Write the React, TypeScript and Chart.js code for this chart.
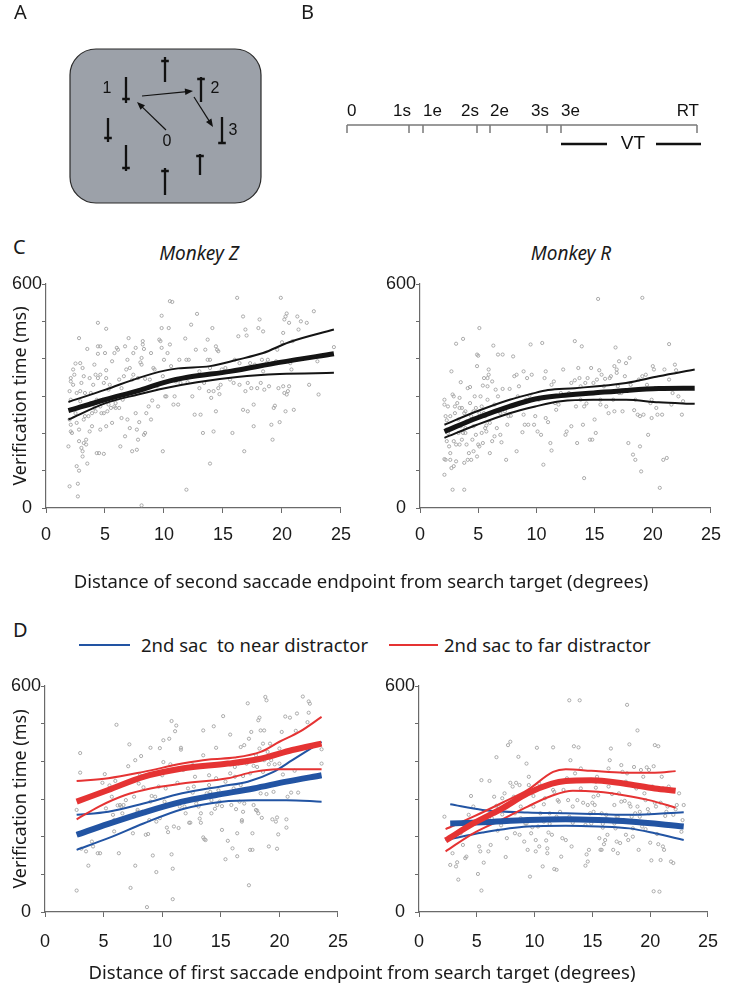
import React, { useEffect, useRef } from "react";
import { Chart, registerables } from "chart.js";
Chart.register(...registerables);

type Pt = [number, number];

// ---------------- Panel A (search array diagram) ----------------
const aItemX = [165, 126, 201, 222, 108, 126, 165, 200];
const aItemTop = [57, 77, 77, 117, 118, 145, 168, 154];
const aItemBottom = [82, 103, 102, 143, 142, 171, 195, 175];
const aItemBar = [61, 99, 79, 143, 138, 168, 171, 156];
const aLabels = ["0", "1", "2", "3"];
const aLabelPos: Pt[] = [[167, 142], [107, 89], [215, 89], [233, 131]];
const aArrowFrom: Pt[] = [[166, 130], [142, 96], [194, 97]];
const aArrowTo: Pt[] = [[137, 102], [193, 91], [213, 127]];
const aScreen = [70, 49, 261, 203];

// ---------------- Panel B (timeline) ----------------
const bEvents = ["0", "1s", "1e", "2s", "2e", "3s", "3e", "RT"];
const bTimes = [0, 62, 76, 130, 143, 200, 214, 350];

// ---------------- Panel C : Monkey Z ----------------
const cZPoints: Pt[] = [[1.9,165],[2,58],[2,313],[2.1,348],[2.1,339],[2.1,290],[2,237],[2.1,223],[2.1,205],[2.2,201],[2.3,371],[2.3,330],[2.4,357],[2.5,387],[2.5,254],[2.6,228],[2.6,112],[2.6,308],[2.7,31],[2.7,65],[2.8,100],[2.8,179],[2.8,455],[2.8,210],[2.9,313],[2.9,286],[2.9,388],[3,335],[3,161],[3.1,138],[3.1,375],[3.1,152],[3.2,353],[3.2,174],[3.2,237],[3.3,308],[3.3,246],[3.4,183],[3.4,170],[3.5,119],[3.5,426],[3.6,246],[3.7,348],[3.7,205],[3.8,281],[3.8,308],[3.9,254],[3.9,219],[4,330],[4.1,268],[4.1,384],[4.2,259],[4.2,357],[4.3,290],[4.3,147],[4.4,413],[4.4,496],[4.4,433],[4.4,348],[4.5,147],[4.6,357],[4.6,272],[4.6,433],[4.6,210],[4.7,254],[4.8,290],[4.9,335],[4.9,145],[4.9,254],[5,415],[5.1,480],[5.1,348],[5.1,369],[5.1,219],[5.2,259],[5.3,317],[5.3,277],[5.4,330],[5.5,268],[5.6,393],[5.6,228],[5.7,290],[5.8,415],[5.8,272],[5.9,281],[5.9,268],[6,429],[6.1,424],[6.2,268],[6.2,344],[6.3,165],[6.4,241],[6.4,321],[6.5,290],[6.6,353],[6.7,433],[6.7,192],[6.8,371],[6.9,397],[6.9,237],[7,455],[7.1,375],[7.1,214],[7.2,308],[7.3,152],[7.3,344],[7.4,415],[7.4,357],[7.6,254],[7.6,429],[7.7,156],[7.7,210],[7.8,348],[7.8,183],[7.9,230],[8,390],[8.1,402],[8.1,384],[8.1,7],[8.2,447],[8.2,438],[8.3,317],[8.3,426],[8.3,196],[8.4,346],[8.4,201],[8.5,254],[8.7,272],[8.8,344],[8.9,237],[8.9,415],[9,288],[9.1,375],[9.2,371],[9.4,326],[9.5,272],[9.6,451],[9.7,447],[9.8,482],[9.8,429],[9.8,515],[9.9,152],[9.9,353],[10,397],[10.1,299],[10.2,299],[10.3,415],[10.4,482],[10.5,554],[10.5,438],[10.6,380],[10.7,552],[10.8,277],[10.9,299],[11,339],[11.2,277],[11.3,397],[11.4,335],[11.8,454],[11.9,397],[11.9,49],[12,337],[12.1,397],[12.3,491],[12.4,299],[12.6,250],[12.7,424],[12.8,520],[13,366],[13,321],[13.1,250],[13.3,201],[13.4,335],[13.5,424],[13.7,451],[13.7,397],[13.8,313],[13.9,375],[13.9,397],[13.9,119],[14,295],[14.1,482],[14.2,205],[14.2,313],[14.4,259],[14.4,433],[14.5,424],[14.6,321],[14.6,420],[14.7,305],[14.8,330],[14.9,371],[15.2,375],[15.6,344],[15.8,201],[15.9,335],[16,397],[16.2,563],[16.3,460],[16.4,330],[16.4,388],[16.7,263],[16.7,513],[16.8,152],[16.9,478],[16.9,313],[17,462],[17.1,259],[17.1,335],[17.3,388],[17.4,321],[17.6,219],[17.6,277],[17.7,384],[17.9,321],[18,482],[18.1,505],[18.2,335],[18.3,397],[18.4,473],[18.4,366],[18.5,317],[18.7,388],[18.8,397],[18.9,326],[19.1,223],[19.2,183],[19.2,388],[19.3,268],[19.4,274],[19.5,393],[19.6,424],[19.7,321],[19.8,230],[19.9,563],[20,444],[20.1,326],[20.1,469],[20.2,505],[20.2,308],[20.3,259],[20.3,513],[20.4,304],[20.4,521],[20.5,313],[20.6,496],[20.6,326],[20.7,388],[20.8,371],[20.9,447],[21,263],[21.2,397],[21.3,513],[21.4,478],[21.6,500],[22.1,496],[22.3,330],[22.7,527],[23,393],[23.1,304],[24.4,431]];
const cZMean: Pt[] = [[1.9,261],[5,290],[8,316],[10.2,338],[12,350],[15.6,366],[19.8,390],[24.4,413]];
const cZUpper: Pt[] = [[1.9,284],[5.05,317],[7.8,348],[10.06,368],[11.2,374],[13.9,380],[16.2,397],[18.4,415],[20.6,444],[24.4,478]];
const cZLower: Pt[] = [[1.9,237],[5.05,281],[7.8,304],[10.06,321],[12.8,337],[16.2,351],[19.8,359],[24.4,362]];

// ---------------- Panel C : Monkey R ----------------
const cRPoints: Pt[] = [[2.1,89],[2.1,131],[2.2,129],[2.1,290],[2.1,277],[2.2,246],[2.3,235],[2.3,210],[2.3,179],[2.4,272],[2.4,201],[2.5,165],[2.6,246],[2.6,147],[2.6,129],[2.7,366],[2.7,107],[2.8,49],[2.8,304],[2.9,299],[2.9,179],[2.9,112],[3,272],[3,254],[3.1,440],[3.1,170],[3.1,125],[3.2,281],[3.3,201],[3.3,237],[3.4,170],[3.4,268],[3.4,295],[3.5,337],[3.5,219],[3.6,268],[3.6,183],[3.7,201],[3.7,453],[3.8,254],[3.8,121],[3.8,49],[3.9,214],[3.9,259],[3.9,201],[4,232],[4,170],[4.1,321],[4.1,129],[4.2,147],[4.3,281],[4.3,324],[4.4,246],[4.4,129],[4.5,183],[4.6,219],[4.6,259],[4.6,152],[4.7,299],[4.8,268],[4.8,196],[4.9,138],[4.9,380],[4.9,411],[5,408],[5,170],[5.1,254],[5.1,165],[5.1,482],[5.2,299],[5.3,201],[5.3,272],[5.4,328],[5.4,174],[5.5,348],[5.5,254],[5.6,214],[5.6,246],[5.7,205],[5.7,221],[5.8,326],[5.8,290],[5.8,348],[5.9,357],[5.9,371],[6,147],[6,228],[6.2,339],[6.2,179],[6.3,435],[6.4,277],[6.4,192],[6.5,317],[6.6,214],[6.7,299],[6.7,411],[6.8,259],[6.9,196],[6.9,254],[7,176],[7.1,319],[7.1,411],[7.3,259],[7.4,129],[7.5,223],[7.6,246],[7.7,319],[7.8,247],[8,406],[8.1,353],[8.3,357],[8.3,152],[8.4,299],[8.5,326],[8.8,203],[8.9,250],[8.9,366],[9,223],[9.1,290],[9.2,348],[9.3,223],[9.4,301],[9.5,438],[9.6,357],[9.8,223],[9.9,246],[10.1,205],[10.2,290],[10.4,196],[10.5,442],[10.6,116],[10.7,348],[10.8,366],[10.8,241],[11,230],[11.2,174],[11.3,154],[11.3,330],[11.5,339],[11.6,281],[11.7,263],[11.9,277],[12.1,308],[12.3,371],[12.5,196],[12.6,205],[12.8,308],[13,335],[13,219],[13.3,342],[13.3,447],[13.4,272],[13.5,174],[13.6,375],[13.7,348],[13.8,290],[13.8,326],[13.9,433],[14,223],[14.1,80],[14.1,272],[14.2,335],[14.3,280],[14.4,348],[14.6,183],[14.7,375],[14.8,183],[14.9,335],[15,237],[15.1,201],[15.2,344],[15.3,560],[15.4,369],[15.5,290],[15.5,277],[15.6,357],[15.8,326],[15.9,346],[16,272],[16.2,254],[16.3,348],[16.4,353],[16.6,290],[16.7,259],[16.7,380],[16.8,430],[16.9,362],[16.9,371],[17,326],[17.1,393],[17.1,308],[17.3,308],[17.4,259],[17.6,353],[17.7,388],[17.9,174],[18,402],[18.1,330],[18.3,143],[18.4,262],[18.5,129],[18.5,290],[18.7,250],[18.8,344],[18.9,246],[18.9,165],[19,98],[19.1,563],[19.1,353],[19.2,250],[19.4,357],[19.5,330],[19.6,196],[19.8,281],[19.9,241],[19.9,290],[20,380],[20.1,371],[20.2,321],[20.3,268],[20.4,250],[20.6,54],[20.8,250],[20.9,129],[21,371],[21.2,134],[21.4,344],[21.4,439],[21.6,277],[21.7,308],[21.9,384],[22,369],[22.2,299],[22.5,250],[22.6,286],[22.8,321]];
const cRMean: Pt[] = [[2.1,205],[4.9,241],[7.7,272],[9.9,292],[12.1,301],[14.9,308],[17.7,315],[20.5,320],[23.6,321]];
const cRUpper: Pt[] = [[2.1,223],[4.9,259],[7.7,290],[9.6,306],[11,316],[13.3,321],[17.7,335],[20.5,353],[23.6,371]];
const cRLower: Pt[] = [[2.1,188],[4.9,223],[7.7,254],[9.9,272],[12.1,286],[14.9,290],[17.7,290],[20.5,283],[23.6,279]];

// ---------------- Panel D : left ----------------
const dLPoints: Pt[] = [[2.7,271],[2.7,57],[3,422],[3,370],[3.1,168],[3.5,161],[3.7,123],[4,187],[4.1,174],[4.5,156],[4.7,156],[4.9,343],[5.1,366],[5.2,275],[5.5,336],[5.7,306],[5.8,258],[5.9,244],[5.9,214],[6,348],[6.1,497],[6.2,283],[6.3,156],[6.4,284],[6.5,280],[6.6,262],[6.7,284],[6.9,297],[7.1,387],[7.2,445],[7.3,64],[7.5,209],[7.6,306],[7.7,123],[7.7,403],[7.9,266],[7.9,271],[8,341],[8.1,363],[8.2,414],[8.3,266],[8.4,331],[8.6,205],[8.7,13],[8.8,207],[8.9,244],[9,436],[9,293],[9.1,308],[9.2,150],[9.4,306],[9.5,106],[9.5,240],[9.7,333],[9.8,435],[9.8,249],[10,363],[10.1,456],[10.1,398],[10.2,293],[10.3,328],[10.4,224],[10.5,212],[10.6,460],[10.7,392],[10.8,507],[10.8,153],[10.9,34],[10.9,115],[11,227],[11.1,480],[11.2,495],[11.3,343],[11.4,223],[11.5,280],[11.6,436],[11.6,431],[11.8,377],[11.9,280],[12,262],[12.2,328],[12.3,237],[12.4,237],[12.6,390],[12.6,317],[12.7,333],[12.8,359],[12.9,288],[13,297],[13.1,280],[13.2,248],[13.3,237],[13.3,262],[13.5,482],[13.5,198],[13.5,416],[13.6,193],[13.7,191],[13.8,315],[14,363],[14,337],[14.1,319],[14.2,297],[14.2,262],[14.4,493],[14.5,274],[14.6,355],[14.6,436],[14.7,284],[14.8,323],[14.9,293],[15.1,281],[15.1,218],[15.2,520],[15.3,315],[15.4,140],[15.4,346],[15.6,189],[15.8,471],[15.8,368],[15.9,284],[16,169],[16.1,328],[16.2,385],[16.2,359],[16.3,273],[16.4,209],[16.4,148],[16.5,394],[16.6,293],[16.7,337],[16.7,438],[16.8,244],[16.8,240],[16.9,266],[16.9,361],[17,443],[17,288],[17.1,324],[17.2,394],[17.3,554],[17.4,71],[17.4,460],[17.5,165],[17.5,368],[17.6,478],[17.7,209],[17.7,165],[17.8,284],[17.8,388],[18,416],[18,271],[18.1,269],[18.1,385],[18.2,262],[18.2,509],[18.3,434],[18.3,516],[18.4,482],[18.4,315],[18.5,250],[18.6,372],[18.6,447],[18.7,482],[18.7,403],[18.8,571],[18.9,562],[18.9,313],[19,425],[19.1,392],[19.1,174],[19.2,447],[19.3,414],[19.3,403],[19.4,246],[19.5,319],[19.6,392],[19.7,240],[19.8,251],[19.8,168],[19.9,206],[20,394],[20,434],[20.2,478],[20.3,365],[20.5,519],[20.6,246],[20.6,224],[20.7,306],[20.9,516],[21,317],[21.3,375],[21.4,481],[21.5,527],[21.6,317],[22,572],[22.4,504],[22.5,559],[22.5,529],[22.6,553],[23.6,432],[23.6,394]];
const dLRedMean: Pt[] = [[2.7,293],[5.4,324],[8.4,359],[11.7,381],[15.6,394],[18.4,407],[21.1,430],[23.6,447]];
const dLRedUpper: Pt[] = [[2.7,348],[5.4,355],[8.4,372],[11.7,394],[14,405],[16.2,410],[18.4,425],[20,452],[21.7,478],[23.6,518]];
const dLRedLower: Pt[] = [[2.7,246],[4.6,280],[6.8,310],[9,328],[11.7,341],[15.6,355],[17.8,372],[19.8,379],[23.6,379]];
const dLBlueMean: Pt[] = [[2.7,205],[5.4,234],[8.4,264],[11.7,293],[14.5,310],[17.8,328],[20.6,346],[23.6,363]];
const dLBlueUpper: Pt[] = [[2.7,258],[5.4,266],[8.4,288],[11.7,315],[15.1,334],[17.3,346],[19.5,372],[21.1,403],[23.6,452]];
const dLBlueLower: Pt[] = [[2.7,165],[5.4,196],[8.4,235],[11.7,273],[15.1,293],[17.8,297],[20.6,297],[23.6,293]];

// ---------------- Panel D : right ----------------
const dRPoints: Pt[] = [[2.2,253],[2.7,125],[2.9,156],[3.2,121],[3.3,132],[3.4,86],[3.6,209],[3.8,178],[4,143],[4.1,147],[4.3,258],[4.5,308],[4.7,280],[5.1,101],[5.2,174],[5.3,161],[5.4,350],[5.4,57],[5.6,131],[5.7,244],[5.9,235],[6,161],[6.1,348],[6.2,178],[6.3,249],[6.5,306],[6.6,262],[6.6,240],[6.7,411],[6.7,282],[6.8,216],[6.9,280],[7.1,230],[7.2,302],[7.2,259],[7.4,315],[7.5,146],[7.6,196],[7.7,443],[7.9,452],[7.9,343],[8.1,333],[8.2,306],[8.3,209],[8.3,262],[8.4,343],[8.6,412],[8.7,205],[8.7,337],[8.8,249],[8.8,280],[8.9,310],[9,244],[9.1,187],[9.2,235],[9.3,394],[9.3,235],[9.4,165],[9.5,337],[9.5,359],[9.6,94],[9.7,209],[9.8,225],[9.9,280],[9.9,308],[10.1,191],[10.1,161],[10.2,436],[10.3,227],[10.4,174],[10.4,341],[10.5,262],[10.6,246],[10.7,121],[10.8,240],[10.8,286],[10.9,302],[11,190],[11.1,156],[11.1,169],[11.2,211],[11.3,234],[11.3,262],[11.5,205],[11.6,437],[11.6,324],[11.7,114],[11.7,319],[11.9,112],[11.9,253],[12,297],[12.1,293],[12.2,266],[12.3,147],[12.4,196],[12.5,324],[12.7,191],[12.8,355],[12.9,297],[13,562],[13,253],[13.1,403],[13.2,174],[13.3,280],[13.3,237],[13.4,440],[13.5,368],[13.7,297],[13.8,437],[13.9,562],[14,381],[14,328],[14.1,244],[14.2,290],[14.4,123],[14.4,231],[14.5,153],[14.6,134],[14.6,284],[14.7,165],[14.8,262],[14.9,235],[15,290],[15.1,306],[15.1,266],[15.2,284],[15.3,330],[15.3,346],[15.4,359],[15.5,244],[15.5,310],[15.6,196],[15.7,165],[15.8,262],[15.8,165],[15.9,224],[15.9,234],[16,180],[16.1,191],[16.2,246],[16.2,258],[16.3,205],[16.4,333],[16.4,381],[16.5,403],[16.6,434],[16.7,313],[16.8,165],[16.9,235],[16.9,284],[17,222],[17.1,253],[17.1,187],[17.2,156],[17.2,253],[17.3,315],[17.4,183],[17.5,390],[17.5,293],[17.6,372],[17.7,244],[17.8,295],[17.9,205],[17.9,346],[18,368],[18,550],[18.1,191],[18.2,445],[18.2,288],[18.3,280],[18.4,253],[18.5,200],[18.5,222],[18.6,385],[18.7,333],[18.7,262],[18.8,328],[18.9,482],[18.9,280],[19,165],[19.1,253],[19.1,266],[19.2,377],[19.3,227],[19.4,359],[19.5,315],[19.6,220],[19.6,297],[19.7,384],[19.8,273],[19.9,377],[19.9,262],[20,184],[20.1,137],[20.2,333],[20.3,55],[20.3,387],[20.4,290],[20.4,443],[20.5,280],[20.6,207],[20.7,440],[20.7,180],[20.8,54],[20.9,138],[20.9,290],[21,359],[21.1,328],[21.1,174],[21.2,165],[21.3,255],[21.4,266],[21.5,280],[21.6,333],[21.8,134],[22,130],[22,258],[22.2,273],[22.3,284],[22.5,315],[22.7,213],[22.8,244],[22.9,284]];
const dRRedMean: Pt[] = [[2.3,190],[4.7,235],[7.2,275],[9.4,315],[11.5,341],[12.7,348],[14.9,350],[17.7,341],[20.4,328],[22.2,322]];
const dRRedUpper: Pt[] = [[2.3,220],[4.7,253],[7.2,290],[9.4,324],[11.6,372],[12.7,379],[14.9,375],[17.7,370],[20.4,370],[22.2,374]];
const dRRedLower: Pt[] = [[2.3,161],[4.7,209],[7.2,246],[9.4,280],[11.6,310],[13.3,322],[15.5,319],[17.7,310],[19.9,297],[22.2,277]];
const dRBlueMean: Pt[] = [[2.7,235],[5.5,238],[9.4,244],[12.7,246],[15.5,244],[18.2,240],[22.9,227]];
const dRBlueUpper: Pt[] = [[2.7,286],[5.5,271],[9.4,264],[12.7,262],[15.5,260],[18.2,258],[22.9,265]];
const dRBlueLower: Pt[] = [[2.3,191],[5.5,211],[9.4,227],[12.7,229],[15.5,227],[18.2,222],[20.4,209],[22.9,191]];

const xTicks = [0, 5, 10, 15, 20, 25];
const yLabelled = [0, 600];

// ---------------- styles ----------------
const SANS = '"Noto Sans", "Open Sans", sans-serif';
const NUM = '"Liberation Sans", Arial, sans-serif';
const AXIS = "#6a6a6a";
const INK = "#1a1a1a";
const BLACK = "#141414";
const RED = "#e53333";
const BLUE = "#2254a3";

const toXY = (a: Pt[]) => a.map(([x, y]) => ({ x, y }));

interface LineSpec { data: Pt[]; color: string; width: number; }

function ScatterPanel(props: {
  left: number; top: number; width: number; height: number;
  yAxisW: number; xAxisH: number; padTop: number; padRight: number;
  tickPad: number; points: Pt[]; lines: LineSpec[]; yTitle?: string;
}) {
  const ref = useRef<HTMLCanvasElement>(null);
  useEffect(() => {
    const p = props;
    const chart = new Chart(ref.current as HTMLCanvasElement, {
      type: "scatter",
      data: {
        datasets: [
          ...p.lines.map((l, i) => ({
            type: "line" as const,
            data: toXY(l.data),
            borderColor: l.color,
            borderWidth: l.width,
            pointRadius: 0,
            fill: false,
            cubicInterpolationMode: "monotone" as const,
            order: i,
          })),
          {
            type: "scatter" as const,
            data: toXY(p.points),
            pointRadius: 1.6,
            borderWidth: 0.9,
            borderColor: "#a3a3a3",
            backgroundColor: "rgba(255,255,255,0)",
            order: 100,
          },
        ] as any,
      },
      options: {
        responsive: false,
        animation: false,
        events: [],
        layout: { padding: { left: 0, top: p.padTop, right: p.padRight, bottom: 0 } },
        plugins: { legend: { display: false }, tooltip: { enabled: false } },
        scales: {
          x: {
            type: "linear",
            min: 0,
            max: 25,
            afterBuildTicks: (s: any) => { s.ticks = xTicks.map((v) => ({ value: v })); },
            ticks: { font: { family: NUM, size: 18 }, color: INK, padding: p.tickPad, maxRotation: 0, autoSkip: false },
            grid: { drawOnChartArea: false, drawTicks: true, tickLength: 5, color: AXIS, lineWidth: 1 },
            border: { color: AXIS, width: 1.2 },
            afterFit: (s: any) => { s.height = p.xAxisH; },
          },
          y: {
            type: "linear",
            min: 0,
            max: 600,
            ticks: {
              stepSize: 100,
              font: { family: NUM, size: 18 },
              color: INK,
              padding: 0,
              crossAlign: "center",
              callback: (v: any) => (yLabelled.includes(Number(v)) ? String(v) : ""),
            },
            grid: { drawOnChartArea: false, drawTicks: true, tickLength: 4, color: AXIS, lineWidth: 1 },
            border: { color: AXIS, width: 1.2 },
            title: p.yTitle
              ? { display: true, text: p.yTitle, font: { family: SANS, size: 18 }, color: INK, padding: { top: 10, bottom: 0 } }
              : { display: false },
            afterFit: (s: any) => { s.width = p.yAxisW; },
          },
        },
      } as any,
    });
    return () => chart.destroy();
  }, []);
  return (
    <canvas
      ref={ref}
      width={props.width}
      height={props.height}
      style={{ position: "absolute", left: props.left, top: props.top, width: props.width, height: props.height }}
    />
  );
}

function DiagramA() {
  const ref = useRef<HTMLCanvasElement>(null);
  useEffect(() => {
    const chart = new Chart(ref.current as HTMLCanvasElement, {
      type: "scatter",
      data: { datasets: [{ data: aItemX.map((x, i) => ({ x, y: aItemTop[i] })), pointRadius: 0 }] },
      options: {
        responsive: false,
        animation: false,
        events: [],
        layout: { padding: 0 },
        plugins: { legend: { display: false }, tooltip: { enabled: false } },
        scales: {
          x: { type: "linear", min: 0, max: 300, display: false },
          y: { type: "linear", min: 0, max: 215, reverse: true, display: false },
        },
      },
      plugins: [
        {
          id: "diagramA",
          afterDraw(c: any) {
            const ctx = c.ctx;
            const X = (v: number) => c.scales.x.getPixelForValue(v);
            const Y = (v: number) => c.scales.y.getPixelForValue(v);
            ctx.save();
            ctx.beginPath();
            ctx.roundRect(X(aScreen[0]), Y(aScreen[1]), X(aScreen[2]) - X(aScreen[0]), Y(aScreen[3]) - Y(aScreen[1]), 26);
            ctx.fillStyle = "#9ca1a9";
            ctx.fill();
            ctx.lineWidth = 1.2;
            ctx.strokeStyle = "#2a2a2a";
            ctx.stroke();
            ctx.strokeStyle = "#111";
            ctx.lineWidth = 2.3;
            aItemX.forEach((x, i) => {
              ctx.beginPath();
              ctx.moveTo(X(x), Y(aItemTop[i]));
              ctx.lineTo(X(x), Y(aItemBottom[i]));
              ctx.moveTo(X(x) - 3.8, Y(aItemBar[i]));
              ctx.lineTo(X(x) + 3.8, Y(aItemBar[i]));
              ctx.stroke();
            });
            ctx.lineWidth = 1.2;
            ctx.fillStyle = "#111";
            aArrowFrom.forEach((f, i) => {
              const t = aArrowTo[i];
              const x0 = X(f[0]), y0 = Y(f[1]), x1 = X(t[0]), y1 = Y(t[1]);
              const ang = Math.atan2(y1 - y0, x1 - x0);
              ctx.beginPath();
              ctx.moveTo(x0, y0);
              ctx.lineTo(x1 - 6 * Math.cos(ang), y1 - 6 * Math.sin(ang));
              ctx.stroke();
              ctx.beginPath();
              ctx.moveTo(x1, y1);
              ctx.lineTo(x1 - 8 * Math.cos(ang) + 3.2 * Math.sin(ang), y1 - 8 * Math.sin(ang) - 3.2 * Math.cos(ang));
              ctx.lineTo(x1 - 8 * Math.cos(ang) - 3.2 * Math.sin(ang), y1 - 8 * Math.sin(ang) + 3.2 * Math.cos(ang));
              ctx.closePath();
              ctx.fill();
            });
            ctx.font = `16px ${NUM}`;
            ctx.textAlign = "center";
            ctx.textBaseline = "middle";
            aLabels.forEach((s, i) => ctx.fillText(s, X(aLabelPos[i][0]), Y(aLabelPos[i][1])));
            ctx.restore();
          },
        },
      ],
    } as any);
    return () => chart.destroy();
  }, []);
  return <canvas ref={ref} width={300} height={215} style={{ position: "absolute", left: 0, top: 0, width: 300, height: 215 }} />;
}

function TimelineB() {
  const ref = useRef<HTMLCanvasElement>(null);
  useEffect(() => {
    const align = ["left", "right", "left", "right", "left", "right", "left", "right"];
    const chart = new Chart(ref.current as HTMLCanvasElement, {
      type: "scatter",
      data: { datasets: [{ data: bTimes.map((t) => ({ x: t, y: 65 })), pointRadius: 0 }] },
      options: {
        responsive: false,
        animation: false,
        events: [],
        layout: { padding: 0 },
        plugins: { legend: { display: false }, tooltip: { enabled: false } },
        scales: {
          x: { type: "linear", min: -17, max: 383, display: false },
          y: { type: "linear", min: 0, max: 110, reverse: true, display: false },
        },
      },
      plugins: [
        {
          id: "timelineB",
          afterDraw(c: any) {
            const ctx = c.ctx;
            const X = (v: number) => c.scales.x.getPixelForValue(v);
            const Y = (v: number) => c.scales.y.getPixelForValue(v);
            const n = bTimes.length;
            ctx.save();
            ctx.strokeStyle = "#7a7a7a";
            ctx.lineWidth = 1.5;
            ctx.beginPath();
            ctx.moveTo(X(bTimes[0]), Y(65));
            ctx.lineTo(X(bTimes[n - 1]), Y(65));
            bTimes.forEach((t) => {
              ctx.moveTo(X(t), Y(65));
              ctx.lineTo(X(t), Y(73));
            });
            ctx.stroke();
            ctx.fillStyle = "#111";
            ctx.font = `17px ${NUM}`;
            ctx.textBaseline = "middle";
            bEvents.forEach((s, i) => {
              ctx.textAlign = align[i];
              ctx.fillText(s, X(bTimes[i]) + (align[i] === "left" ? 0 : 2), Y(51));
            });
            const a = bTimes[n - 2], b = bTimes[n - 1];
            const mid = (a + b) / 2 + 4;
            ctx.strokeStyle = "#111";
            ctx.lineWidth = 2.5;
            ctx.beginPath();
            ctx.moveTo(X(a), Y(84));
            ctx.lineTo(X(mid - 26), Y(84));
            ctx.moveTo(X(mid + 23), Y(84));
            ctx.lineTo(X(b + 4), Y(84));
            ctx.stroke();
            ctx.font = `19px ${NUM}`;
            ctx.textAlign = "center";
            ctx.fillText("VT", X(mid), Y(84));
            ctx.restore();
          },
        },
      ],
    } as any);
    return () => chart.destroy();
  }, []);
  return <canvas ref={ref} width={400} height={110} style={{ position: "absolute", left: 330, top: 60, width: 400, height: 110 }} />;
}

function Txt(props: { x: number; y: number; text: string; size?: number; align?: string; italic?: boolean; family?: string }) {
  const tx = props.align === "center" ? "-50%" : props.align === "right" ? "-100%" : "0";
  return (
    <div
      style={{
        position: "absolute",
        left: props.x,
        top: props.y,
        transform: `translate(${tx}, -50%)`,
        fontSize: props.size ?? 17,
        fontFamily: props.family ?? SANS,
        fontStyle: props.italic ? "italic" : "normal",
        lineHeight: 1,
        whiteSpace: "pre",
        color: INK,
      }}
    >
      {props.text}
    </div>
  );
}

export default function App() {
  return (
    <div style={{ position: "absolute", left: 0, top: 0, width: 732, height: 989, background: "#fff", overflow: "hidden" }}>
      <DiagramA />
      <TimelineB />
      <Txt x={14} y={12} text="A" size={20} />
      <Txt x={301} y={12} text="B" size={20} />
      <Txt x={13} y={247} text="C" size={20} />
      <Txt x={13} y={630} text="D" size={20} />

      <Txt x={199} y={253} text="Monkey Z" size={19} italic align="center" />
      <Txt x={571} y={253} text="Monkey R" size={19} italic align="center" />

      <ScatterPanel
        left={0} top={270} width={362} height={300}
        yAxisW={46} xAxisH={62} padTop={14} padRight={16} tickPad={11}
        points={cZPoints}
        yTitle="Verification time (ms)"
        lines={[
          { data: cZMean, color: BLACK, width: 5 },
          { data: cZUpper, color: BLACK, width: 2 },
          { data: cZLower, color: BLACK, width: 2 },
        ]}
      />
      <ScatterPanel
        left={366} top={270} width={366} height={300}
        yAxisW={54} xAxisH={62} padTop={14} padRight={12} tickPad={11}
        points={cRPoints}
        lines={[
          { data: cRMean, color: BLACK, width: 5 },
          { data: cRUpper, color: BLACK, width: 2 },
          { data: cRLower, color: BLACK, width: 2 },
        ]}
      />
      <Txt x={361} y={581} text="Distance of second saccade endpoint from search target (degrees)" size={18.5} align="center" />

      {/* legend */}
      <div style={{ position: "absolute", left: 79, top: 644, width: 51, height: 2, background: BLUE }} />
      <Txt x={141} y={645} text="2nd sac  to near distractor" size={18.5} />
      <div style={{ position: "absolute", left: 389, top: 644, width: 49, height: 2, background: RED }} />
      <Txt x={444} y={645} text="2nd sac to far distractor" size={18.5} />

      <ScatterPanel
        left={0} top={672} width={362} height={300}
        yAxisW={45} xAxisH={60} padTop={14} padRight={15} tickPad={14}
        points={dLPoints}
        yTitle="Verification time (ms)"
        lines={[
          { data: dLRedMean, color: RED, width: 6 },
          { data: dLBlueMean, color: BLUE, width: 6 },
          { data: dLRedUpper, color: RED, width: 2 },
          { data: dLRedLower, color: RED, width: 2 },
          { data: dLBlueUpper, color: BLUE, width: 2 },
          { data: dLBlueLower, color: BLUE, width: 2 },
        ]}
      />
      <ScatterPanel
        left={366} top={672} width={366} height={300}
        yAxisW={53} xAxisH={60} padTop={14} padRight={11} tickPad={14}
        points={dRPoints}
        lines={[
          { data: dRRedMean, color: RED, width: 6 },
          { data: dRBlueMean, color: BLUE, width: 6 },
          { data: dRRedUpper, color: RED, width: 2 },
          { data: dRRedLower, color: RED, width: 2 },
          { data: dRBlueUpper, color: BLUE, width: 2 },
          { data: dRBlueLower, color: BLUE, width: 2 },
        ]}
      />
      <Txt x={362} y={972} text="Distance of first saccade endpoint from search target (degrees)" size={18.5} align="center" />
    </div>
  );
}
